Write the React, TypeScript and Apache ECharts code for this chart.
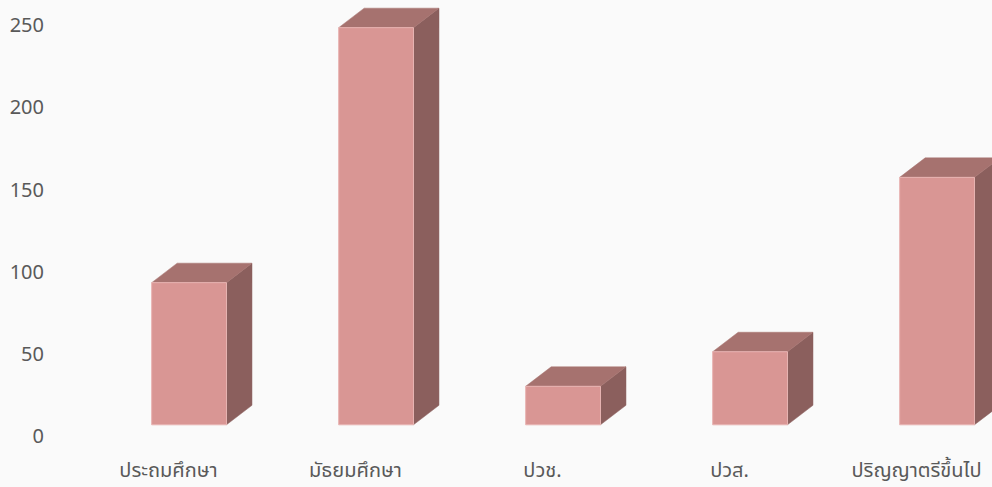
import React, { useEffect, useRef } from "react";
import * as echarts from "echarts";

const categories = ["ประถมศึกษา", "มัธยมศึกษา", "ปวช.", "ปวส.", "ปริญญาตรีขึ้นไป"];
const values = [94, 249, 31, 52, 158];
const yTicks = { min: 0, max: 250, interval: 50 };

const FRONT = "#d99694";
const TOP = "#a6726f";
const SIDE = "#8b5f5d";
const EDGE = "#e8b4b2";
const FONT = "Tahoma, 'Leelawadee UI', 'Noto Sans Thai', 'Noto Sans', sans-serif";

export default function App() {
  const ref = useRef<HTMLDivElement>(null);
  useEffect(() => {
    if (!ref.current) return;
    const chart = echarts.init(ref.current, null, { renderer: "svg" });
    const data = values.map((v, i) => [i, v]);
    chart.setOption({
      animation: false,
      backgroundColor: "#fafafa",
      grid: {
        left: 75,
        top: 26,
        bottom: 49.7,
        width: 935,
        containLabel: false,
        outerBoundsMode: "none",
      },
      xAxis: {
        type: "category",
        data: categories,
        axisLine: { show: false },
        axisTick: { show: false },
        axisLabel: {
          color: "#595959",
          fontSize: 20,
          lineHeight: 14,
          fontFamily: FONT,
          margin: 27,
        },
      },
      yAxis: {
        type: "value",
        min: yTicks.min,
        max: yTicks.max,
        interval: yTicks.interval,
        splitLine: { show: false },
        axisLine: { show: false },
        axisTick: { show: false },
        axisLabel: { color: "#595959", fontSize: 20, fontFamily: FONT, margin: 31 },
      },
      series: [
        {
          type: "custom",
          data,
          clip: false,
          renderItem: (params: any, api: any) => {
            const idx = api.value(0);
            const val = api.value(1);
            const top = api.coord([idx, val]);
            const base = api.coord([idx, 0]);
            const band = api.size([1, 0])[0];
            const w = band * 0.4;
            const cx = top[0] + band * 0.11;
            const x0 = cx - w / 2;
            const x1 = cx + w / 2;
            const yTop = top[1];
            const yBot = base[1] - 12.5;
            const dx = 25.5;
            const dy = -19.5;
            return {
              type: "group",
              children: [
                {
                  type: "polygon",
                  shape: { points: [[x1, yTop], [x1 + dx, yTop + dy], [x1 + dx, yBot + dy], [x1, yBot]] },
                  style: { fill: SIDE, stroke: SIDE, lineWidth: 0.5 },
                },
                {
                  type: "polygon",
                  shape: { points: [[x0, yTop], [x0 + dx, yTop + dy], [x1 + dx, yTop + dy], [x1, yTop]] },
                  style: { fill: TOP, stroke: TOP, lineWidth: 0.5 },
                },
                {
                  type: "rect",
                  shape: { x: x0, y: yTop, width: w, height: yBot - yTop },
                  style: { fill: FRONT, stroke: EDGE, lineWidth: 1 },
                },
              ],
            };
          },
        },
      ],
    });
    return () => chart.dispose();
  }, []);
  return (
    <div
      ref={ref}
      style={{ position: "absolute", left: 0, top: 0, width: 992, height: 487, background: "#fafafa" }}
    />
  );
}
